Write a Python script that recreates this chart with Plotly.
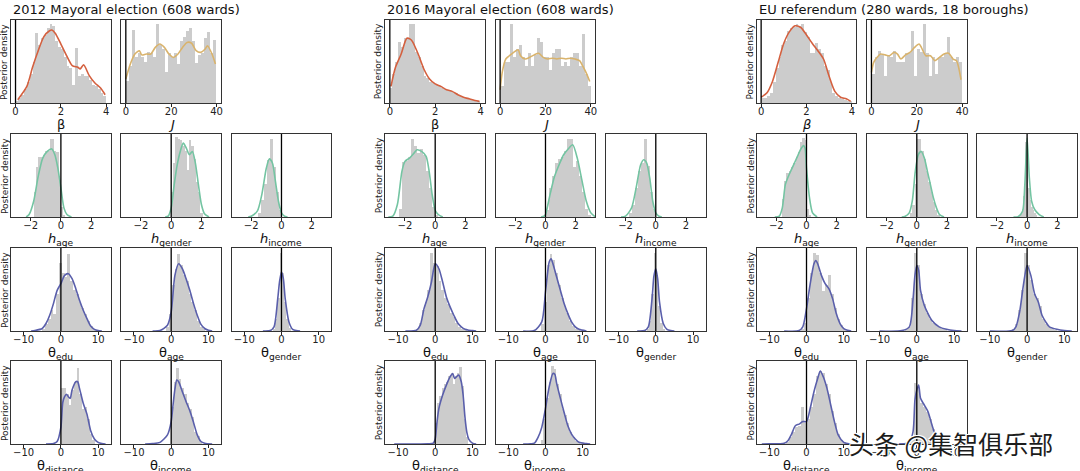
import plotly.graph_objects as go

W, H = 1080, 471

# ---------------- data (relative posterior densities) ----------------
# histogram bins given as (first edge, bin width); heights relative to panel height
# ===== 2012 Mayoral election =====
e12_beta_bins = (0.0, 0.125)
e12_beta_hist = [0.03, 0.06, 0.10, 0.17, 0.25, 0.35, 0.50, 0.84, 0.70, 0.78, 0.82, 0.90, 0.95, 0.93, 0.75, 0.68,
                 0.65, 0.55, 0.45, 0.42, 0.22, 0.66, 0.33, 0.35, 0.32, 0.32, 0.28, 0.22, 0.20, 0.17, 0.12, 0.08]
e12_beta_kx = [0.1, 0.5, 0.75, 1.0, 1.25, 1.5, 1.6, 1.75, 2.0, 2.25, 2.5, 2.75, 2.85, 3.0, 3.25, 3.5, 3.75, 3.95]
e12_beta_ky = [0.04, 0.2, 0.43, 0.63, 0.8, 0.87, 0.88, 0.84, 0.71, 0.57, 0.45, 0.43, 0.41, 0.46, 0.33, 0.24, 0.18, 0.1]

e12_J_bins = (0.0, 40 / 30)
e12_J_hist = [0.27, 0.45, 0.88, 0.55, 0.60, 0.55, 0.50, 0.62, 0.60, 0.55, 0.95, 0.70, 0.65, 0.37, 0.60,
              0.55, 0.60, 0.47, 0.75, 0.80, 0.87, 0.90, 0.75, 0.48, 0.58, 0.60, 0.78, 0.85, 0.60, 0.76]
e12_J_kx = [0, 2, 4, 6, 7, 9, 11, 13, 15, 17, 19, 21, 23, 25, 27, 29, 31, 33, 35, 36, 38, 39.5]
e12_J_ky = [0.29, 0.47, 0.59, 0.63, 0.58, 0.59, 0.59, 0.67, 0.71, 0.67, 0.59, 0.55, 0.59, 0.67, 0.73, 0.72,
            0.63, 0.61, 0.65, 0.69, 0.59, 0.47]

e12_hage_bins = (-1.8, 0.15)
e12_hage_hist = [0.3, 0.6, 0.72, 0.72, 0.75, 0.8, 0.8, 0.94, 0.94, 0.8, 0.78, 0.45, 0.12, 0.02]
e12_hage_kx = [-2.3, -2.1, -1.8, -1.5, -1.2, -0.9, -0.6, -0.4, -0.2, 0, 0.2, 0.4, 0.7]
e12_hage_ky = [0, 0.03, 0.19, 0.49, 0.71, 0.79, 0.82, 0.75, 0.59, 0.35, 0.11, 0.03, 0]

e12_hgen_bins = (0.0, 0.15)
e12_hgen_hist = [0.3, 0.65, 0.96, 0.94, 0.93, 0.85, 0.8, 0.57, 0.93, 0.85, 0.7, 0.42, 0.3, 0.05]
e12_hgen_kx = [-0.4, -0.2, 0, 0.2, 0.4, 0.6, 0.8, 1.0, 1.2, 1.4, 1.6, 1.8, 2.0, 2.2, 2.5]
e12_hgen_ky = [0, 0.01, 0.11, 0.39, 0.63, 0.79, 0.89, 0.83, 0.75, 0.79, 0.65, 0.39, 0.15, 0.04, 0]

e12_hinc_bins = (-1.6, 0.2)
e12_hinc_hist = [0.05, 0.2, 0.4, 0.69, 0.94, 0.6, 0.3, 0.08]
e12_hinc_kx = [-2.2, -2.0, -1.6, -1.3, -1.0, -0.8, -0.6, -0.4, -0.2, 0, 0.2, 0.4]
e12_hinc_ky = [0, 0.01, 0.07, 0.27, 0.59, 0.70, 0.65, 0.43, 0.19, 0.05, 0.01, 0]

e12_tedu_bins = (-5.0, 0.75)
e12_tedu_hist = [0.03, 0.08, 0.15, 0.25, 0.2, 0.45, 0.82, 0.7, 0.65, 0.93, 0.6, 0.5, 0.45, 0.35, 0.28, 0.2,
                 0.12, 0.06, 0.03, 0.01]
e12_tedu_kx = [-8, -7, -5, -4, -3, -2, -1, 0, 1, 2, 3, 4, 5, 6, 7, 8, 9, 10, 11]
e12_tedu_ky = [0, 0.005, 0.03, 0.09, 0.19, 0.33, 0.49, 0.57, 0.67, 0.69, 0.63, 0.51, 0.37, 0.25, 0.15, 0.06,
               0.02, 0.005, 0]

e12_tage_bins = (-1.25, 0.75)
e12_tage_hist = [0.05, 0.2, 0.55, 0.75, 0.93, 0.8, 0.68, 0.6, 0.45, 0.35, 0.25, 0.12, 0.05, 0.02]
e12_tage_kx = [-5, -3, -1, 0, 1, 2, 3, 4, 5, 6, 7, 8, 9, 10, 11]
e12_tage_ky = [0, 0.005, 0.07, 0.23, 0.67, 0.81, 0.75, 0.63, 0.49, 0.33, 0.19, 0.08, 0.03, 0.01, 0]

e12_tgen_bins = (-2.4, 0.6)
e12_tgen_hist = [0.03, 0.15, 0.4, 0.94, 0.7, 0.35, 0.15, 0.04]
e12_tgen_kx = [-5, -3, -2, -1, -0.5, 0, 0.5, 1, 2, 3, 4, 5]
e12_tgen_ky = [0, 0.005, 0.05, 0.39, 0.6, 0.71, 0.63, 0.39, 0.11, 0.02, 0.005, 0]

e12_tdist_bins = (0.0, 0.7)
e12_tdist_hist = [0.68, 0.68, 0.6, 0.47, 0.65, 0.75, 0.92, 0.6, 0.42, 0.45, 0.3, 0.12, 0.05]
e12_tdist_kx = [-4, -2, -1, 0, 0.5, 1, 1.5, 2, 2.5, 3, 4, 4.5, 5, 6, 7, 8, 9, 10, 11, 12]
e12_tdist_ky = [0, 0.005, 0.03, 0.2, 0.5, 0.57, 0.6, 0.57, 0.55, 0.65, 0.75, 0.75, 0.67, 0.49, 0.36, 0.16,
                0.06, 0.02, 0.005, 0]

e12_tinc_bins = (0.0, 0.7)
e12_tinc_hist = [0.45, 0.75, 0.92, 0.78, 0.68, 0.6, 0.5, 0.42, 0.33, 0.15, 0.1, 0.03]
e12_tinc_kx = [-7, -5, -3, -1, 0, 0.5, 1, 1.5, 2, 3, 4, 5, 6, 7, 8, 9, 11]
e12_tinc_ky = [0, 0.005, 0.02, 0.11, 0.27, 0.47, 0.66, 0.77, 0.75, 0.63, 0.51, 0.4, 0.26, 0.11, 0.03, 0.01, 0]

# ===== 2016 Mayoral election =====
e16_beta_bins = (0.0, 0.125)
e16_beta_hist = [0.18, 0.35, 0.5, 0.73, 0.68, 0.78, 0.78, 0.95, 0.95, 0.62, 0.55, 0.45, 0.32, 0.3, 0.25, 0.24,
                 0.22, 0.2, 0.18, 0.17, 0.16, 0.15, 0.13, 0.12, 0.1, 0.08, 0.07, 0.06, 0.05, 0.04, 0.03, 0.02]
e16_beta_kx = [0.05, 0.25, 0.5, 0.75, 0.9, 1.0, 1.25, 1.5, 1.75, 2.0, 2.25, 2.5, 2.75, 3.0, 3.25, 3.5, 3.75, 3.95]
e16_beta_ky = [0.2, 0.43, 0.59, 0.78, 0.77, 0.74, 0.59, 0.41, 0.29, 0.23, 0.2, 0.16, 0.14, 0.1, 0.07, 0.05,
               0.03, 0.02]

e16_J_bins = (0.0, 40 / 30)
e16_J_hist = [0.2, 0.5, 0.5, 0.95, 0.55, 0.65, 0.7, 0.55, 0.45, 0.6, 0.45, 0.58, 0.78, 0.73, 0.55,
              0.55, 0.4, 0.6, 0.65, 0.65, 0.45, 0.5, 0.45, 0.55, 0.6, 0.6, 0.45, 0.83, 0.35, 0.2]
e16_J_kx = [0, 1, 2.5, 5, 7, 8, 9, 11, 13, 15, 17, 19, 21, 23, 25, 27, 29, 31, 33, 35, 36.5, 38, 39.5]
e16_J_ky = [0.16, 0.38, 0.53, 0.59, 0.63, 0.64, 0.57, 0.53, 0.55, 0.58, 0.6, 0.55, 0.53, 0.54, 0.53, 0.54,
            0.53, 0.54, 0.53, 0.51, 0.44, 0.36, 0.26]

e16_hage_bins = (-2.4, 0.2)
e16_hage_hist = [0.1, 0.66, 0.68, 0.72, 0.94, 0.85, 0.77, 0.82, 0.75, 0.55, 0.35, 0.12, 0.03]
e16_hage_kx = [-3.1, -2.8, -2.5, -2.2, -2.0, -1.7, -1.4, -1.2, -0.9, -0.6, -0.4, -0.2, 0, 0.2, 0.5]
e16_hage_ky = [0, 0.01, 0.15, 0.55, 0.67, 0.71, 0.77, 0.81, 0.79, 0.73, 0.55, 0.27, 0.08, 0.03, 0]

e16_hgen_bins = (0.0, 0.2)
e16_hgen_hist = [0.08, 0.35, 0.5, 0.65, 0.7, 0.72, 0.8, 0.94, 0.94, 0.6, 0.68, 0.5, 0.3, 0.1, 0.03]
e16_hgen_kx = [-0.3, -0.1, 0, 0.3, 0.6, 0.9, 1.2, 1.5, 1.8, 2.1, 2.4, 2.7, 3.0, 3.3]
e16_hgen_ky = [0, 0.01, 0.03, 0.27, 0.49, 0.63, 0.75, 0.82, 0.87, 0.71, 0.45, 0.19, 0.05, 0]

e16_hinc_bins = (-1.8, 0.2)
e16_hinc_hist = [0.05, 0.15, 0.35, 0.55, 0.65, 0.94, 0.62, 0.3, 0.1]
e16_hinc_kx = [-2.3, -2.0, -1.6, -1.3, -1.0, -0.8, -0.6, -0.4, -0.2, 0, 0.2, 0.4]
e16_hinc_ky = [0, 0.01, 0.11, 0.35, 0.63, 0.69, 0.65, 0.47, 0.19, 0.05, 0.01, 0]

e16_tedu_bins = (-5.0, 0.75)
e16_tedu_hist = [0.03, 0.1, 0.25, 0.35, 0.5, 0.94, 0.82, 0.78, 0.6, 0.5, 0.4, 0.32, 0.22, 0.17, 0.1, 0.05,
                 0.03, 0.01]
e16_tedu_kx = [-8, -5, -4, -3, -2, -1, 0, 1, 2, 3, 4, 5, 6, 7, 8, 9, 10, 11]
e16_tedu_ky = [0, 0.01, 0.07, 0.27, 0.41, 0.59, 0.81, 0.75, 0.59, 0.41, 0.29, 0.19, 0.1, 0.05, 0.02, 0.01,
               0.005, 0]

e16_tage_bins = (-1.25, 0.75)
e16_tage_hist = [0.08, 0.35, 0.8, 0.93, 0.85, 0.7, 0.55, 0.4, 0.3, 0.22, 0.12, 0.06, 0.03, 0.01]
e16_tage_kx = [-6, -3, -1, 0, 1, 1.5, 2, 3, 4, 5, 6, 7, 8, 9, 11]
e16_tage_ky = [0, 0.005, 0.11, 0.47, 0.83, 0.87, 0.81, 0.65, 0.49, 0.33, 0.21, 0.11, 0.05, 0.02, 0]

e16_tgen_bins = (-2.4, 0.6)
e16_tgen_hist = [0.03, 0.12, 0.45, 0.94, 0.68, 0.3, 0.1, 0.03]
e16_tgen_kx = [-5, -3, -2, -1, -0.5, 0, 0.5, 1, 2, 3, 4, 5]
e16_tgen_ky = [0, 0.005, 0.05, 0.39, 0.66, 0.75, 0.63, 0.35, 0.09, 0.02, 0.005, 0]

e16_tdist_bins = (0.0, 0.6)
e16_tdist_hist = [0.25, 0.5, 0.58, 0.68, 0.72, 0.75, 0.82, 0.86, 0.72, 0.82, 0.85, 0.93, 0.7, 0.3, 0.08]
e16_tdist_kx = [-11, -2, -0.5, 0, 0.5, 1, 2, 3, 4, 4.7, 5.2, 5.7, 6.3, 7, 7.5, 8, 8.5, 9, 10, 11]
e16_tdist_ky = [0, 0.003, 0.01, 0.06, 0.27, 0.43, 0.59, 0.71, 0.81, 0.85, 0.79, 0.81, 0.83, 0.75, 0.59, 0.32,
                0.14, 0.06, 0.01, 0]

e16_tinc_bins = (-1.4, 0.7)
e16_tinc_hist = [0.05, 0.3, 0.55, 0.75, 0.94, 0.9, 0.72, 0.6, 0.42, 0.35, 0.25, 0.15, 0.08, 0.04, 0.02]
e16_tinc_kx = [-6, -4, -3, -2, -1, 0, 1, 2, 2.5, 3, 4, 5, 6, 7, 8, 9, 11, 12]
e16_tinc_ky = [0, 0.003, 0.01, 0.08, 0.2, 0.43, 0.69, 0.85, 0.84, 0.73, 0.55, 0.38, 0.22, 0.12, 0.06, 0.02,
               0.005, 0]

# ===== EU referendum =====
eu_beta_bins = (0.0, 0.125)
eu_beta_hist = [0.06, 0.06, 0.08, 0.12, 0.25, 0.42, 0.55, 0.7, 0.75, 0.87, 0.9, 0.92, 0.95, 0.93, 0.95, 0.85,
                0.8, 0.6, 0.6, 0.72, 0.65, 0.6, 0.45, 0.4, 0.25, 0.12, 0.08, 0.06, 0.05, 0.04, 0.03, 0.02]
eu_beta_kx = [0, 0.25, 0.5, 0.75, 1.0, 1.25, 1.5, 1.75, 2.0, 2.25, 2.5, 2.75, 3.0, 3.25, 3.5, 3.75, 3.95]
eu_beta_ky = [0.07, 0.12, 0.26, 0.49, 0.72, 0.86, 0.93, 0.91, 0.82, 0.72, 0.63, 0.53, 0.32, 0.14, 0.07, 0.05,
              0.02]

eu_J_bins = (0.0, 40 / 30)
eu_J_hist = [0.35, 0.55, 0.63, 0.58, 0.33, 0.58, 0.55, 0.63, 0.5, 0.5, 0.5, 0.6, 0.6, 0.87, 0.33,
             0.65, 0.62, 0.95, 0.6, 0.33, 0.55, 0.35, 0.55, 0.55, 0.6, 0.8, 0.55, 0.5, 0.55, 0.5]
eu_J_kx = [0, 1, 2.5, 4, 6, 8, 10, 11.5, 13, 15, 17, 19, 21, 22, 24, 26, 28, 30, 32, 34, 36, 37.5, 39.5]
eu_J_ky = [0.37, 0.49, 0.55, 0.59, 0.58, 0.57, 0.61, 0.59, 0.53, 0.58, 0.61, 0.67, 0.71, 0.67, 0.57, 0.57,
           0.51, 0.55, 0.59, 0.6, 0.53, 0.51, 0.28]

eu_hage_bins = (-1.65, 0.15)
eu_hage_hist = [0.22, 0.43, 0.53, 0.56, 0.6, 0.65, 0.72, 0.78, 0.9, 0.95, 0.93, 0.1, 0.03]
eu_hage_kx = [-2.1, -1.8, -1.6, -1.4, -1.2, -1.0, -0.8, -0.6, -0.4, -0.2, -0.1, 0, 0.2, 0.4, 0.7]
eu_hage_ky = [0, 0.01, 0.11, 0.39, 0.49, 0.57, 0.65, 0.73, 0.81, 0.86, 0.83, 0.59, 0.23, 0.05, 0]

eu_hgen_bins = (-0.45, 0.15)
eu_hgen_hist = [0.05, 0.15, 0.4, 0.94, 0.94, 0.8, 0.7, 0.55, 0.42, 0.3, 0.18, 0.08, 0.03]
eu_hgen_kx = [-1.0, -0.8, -0.5, -0.3, -0.1, 0.1, 0.3, 0.5, 0.7, 0.9, 1.1, 1.3, 1.5, 1.8]
eu_hgen_ky = [0, 0.005, 0.05, 0.19, 0.55, 0.75, 0.79, 0.71, 0.55, 0.39, 0.23, 0.11, 0.03, 0]

eu_hinc_bins = (-0.5, 0.1)
eu_hinc_hist = [0.02, 0.04, 0.1, 0.25, 0.9, 0.85, 0.35, 0.2, 0.12, 0.08, 0.05, 0.03]
eu_hinc_kx = [-0.9, -0.6, -0.3, -0.15, 0, 0.15, 0.3, 0.5, 0.8, 1.1]
eu_hinc_ky = [0, 0.005, 0.07, 0.39, 0.95, 0.47, 0.19, 0.09, 0.03, 0]

eu_tedu_bins = (-1.6, 0.8)
eu_tedu_hist = [0.03, 0.1, 0.4, 0.7, 0.94, 0.92, 0.7, 0.48, 0.55, 0.68, 0.45, 0.28, 0.15, 0.07, 0.03, 0.01]
eu_tedu_kx = [-6, -2, -1, 0, 1, 2, 2.5, 3, 4, 5, 6, 7, 8, 9, 10, 11, 12]
eu_tedu_ky = [0, 0.005, 0.05, 0.27, 0.57, 0.81, 0.85, 0.81, 0.67, 0.57, 0.51, 0.39, 0.21, 0.09, 0.03, 0.01, 0]

eu_tage_bins = (-3.2, 0.8)
eu_tage_hist = [0.02, 0.05, 0.4, 0.94, 0.8, 0.45, 0.33, 0.22, 0.15, 0.1, 0.07, 0.05, 0.03, 0.02]
eu_tage_kx = [-10, -4, -2, -1, -0.5, 0, 0.5, 1, 2, 3, 4, 6, 8, 10, 12]
eu_tage_ky = [0, 0.005, 0.05, 0.39, 0.67, 0.79, 0.73, 0.49, 0.31, 0.21, 0.13, 0.05, 0.02, 0.005, 0]

eu_tgen_bins = (-4.0, 0.8)
eu_tgen_hist = [0.03, 0.08, 0.25, 0.5, 0.94, 0.8, 0.62, 0.45, 0.4, 0.3, 0.15, 0.08, 0.05, 0.03, 0.01]
eu_tgen_kx = [-10, -4, -3, -2, -1, 0, 1, 2, 3, 4, 5, 6, 8, 10, 12]
eu_tgen_ky = [0, 0.005, 0.05, 0.23, 0.55, 0.79, 0.67, 0.45, 0.35, 0.19, 0.11, 0.05, 0.02, 0.005, 0]

eu_tdist_bins = (-5.6, 0.8)
eu_tdist_hist = [0.03, 0.08, 0.15, 0.2, 0.22, 0.45, 0.25, 0.3, 0.45, 0.6, 0.82, 0.88, 0.85, 0.72, 0.6, 0.4,
                 0.25, 0.12, 0.05, 0.02]
eu_tdist_kx = [-12, -10, -6, -5, -4, -3, -2, -1, 0, 1, 2, 3, 3.7, 4.5, 5.5, 6.5, 7.5, 8.5, 10, 11, 12]
eu_tdist_ky = [0, 0.003, 0.01, 0.04, 0.12, 0.22, 0.24, 0.27, 0.27, 0.43, 0.63, 0.79, 0.88, 0.81, 0.67, 0.47,
               0.27, 0.11, 0.02, 0.005, 0]

eu_tinc_bins = (-2.4, 0.8)
eu_tinc_hist = [0.02, 0.1, 0.73, 0.68, 0.5, 0.45, 0.38, 0.3, 0.18, 0.08, 0.03, 0.01]
eu_tinc_kx = [-6, -3, -2, -1, -0.5, 0, 0.5, 1, 2, 3, 4, 5, 6, 8]
eu_tinc_ky = [0, 0.005, 0.02, 0.15, 0.53, 0.65, 0.71, 0.55, 0.47, 0.39, 0.24, 0.1, 0.02, 0]

group_titles = ["2012 Mayoral election (608 wards)", "2016 Mayoral election (608 wards)",
                "EU referendum (280 wards, 18 boroughs)"]
ylabel_text = "Posterior density"
beta_ticks = [0, 2, 4]
J_ticks = [0, 20, 40]
h_ticks = [-2, 0, 2]
theta_ticks = [-10, 0, 10]
watermark = "头条 @集智俱乐部"

# ---------------- styling / layout ----------------
KINDS = {
    "beta": dict(rng=[-0.2, 4.2], ticks=beta_ticks, color="#d4603f"),
    "J": dict(rng=[-2, 42], ticks=J_ticks, color="#d9b36c"),
    "h": dict(rng=[-3.3, 3.3], ticks=h_ticks, color="#74c4a2"),
    "theta": dict(rng=[-13.4, 13.4], ticks=theta_ticks, color="#5a5fab"),
}

GROUP_LEFT = [11, 386, 758]
COL_PITCH = 110.5
PW, PH = 100, 83
ROW_TOP = [20, 134, 248, 361]
FONT = "DejaVu Sans"

g12 = globals()
groups = ["e12", "e16", "eu"]
# (row, col, key, kind, label)
slots = [
    (0, 0, "beta", "beta", "β"), (0, 1, "J", "J", "<i>J</i>"),
    (1, 0, "hage", "h", "<i>h</i><sub>age</sub>"), (1, 1, "hgen", "h", "<i>h</i><sub>gender</sub>"),
    (1, 2, "hinc", "h", "<i>h</i><sub>income</sub>"),
    (2, 0, "tedu", "theta", "θ<sub>edu</sub>"), (2, 1, "tage", "theta", "θ<sub>age</sub>"),
    (2, 2, "tgen", "theta", "θ<sub>gender</sub>"),
    (3, 0, "tdist", "theta", "θ<sub>distance</sub>"), (3, 1, "tinc", "theta", "θ<sub>income</sub>"),
]


def fmt(v):
    return ("−" + str(abs(v))) if v < 0 else str(v)


fig = go.Figure()
layout = dict(width=W, height=H, margin=dict(l=0, r=0, t=0, b=0), paper_bgcolor="white",
              plot_bgcolor="white", showlegend=False, barmode="overlay", bargap=0)
annotations, shapes = [], []
n = 0
for gi, g in enumerate(groups):
    annotations.append(dict(text=group_titles[gi], xref="paper", yref="paper", x=GROUP_LEFT[gi] / W,
                            y=1 - 9.5 / H, xanchor="left", yanchor="middle", showarrow=False,
                            font=dict(family=FONT, size=13, color="#111")))
    for (r, c, key, kind, label) in slots:
        n += 1
        k = KINDS[kind]
        hist = g12[f"{g}_{key}_hist"]
        b0, bw = g12[f"{g}_{key}_bins"]
        kx = g12[f"{g}_{key}_kx"]
        ky = g12[f"{g}_{key}_ky"]
        if g == "eu" and key == "beta":
            label = "<i>β</i>"
        centers = [b0 + bw * (i + 0.5) for i in range(len(hist))]
        xa, ya = ("x", "y") if n == 1 else (f"x{n}", f"y{n}")
        fig.add_trace(go.Bar(x=centers, y=hist, width=bw, xaxis=xa, yaxis=ya,
                             marker=dict(color="#cccccc", line=dict(width=0)), hoverinfo="skip"))
        fig.add_trace(go.Scatter(x=kx, y=ky, mode="lines", xaxis=xa, yaxis=ya,
                                 line=dict(color=k["color"], width=1.6, shape="spline", smoothing=0.7),
                                 hoverinfo="skip"))
        left = GROUP_LEFT[gi] + c * COL_PITCH
        top = ROW_TOP[r]
        xd = [left / W, (left + PW) / W]
        yd = [1 - (top + PH) / H, 1 - top / H]
        sfx = "" if n == 1 else str(n)
        layout["xaxis" + sfx] = dict(domain=xd, anchor=ya, range=k["rng"], tickvals=k["ticks"],
                                     ticktext=[fmt(v) for v in k["ticks"]], ticks="outside", ticklen=3.5,
                                     tickwidth=0.8, tickcolor="#222", showline=True, mirror=True,
                                     linecolor="#333", linewidth=0.9, showgrid=False, zeroline=False,
                                     ticklabelstandoff=-4,
                                     tickfont=dict(family=FONT, size=10, color="#222"), fixedrange=True)
        layout["yaxis" + sfx] = dict(domain=yd, anchor=xa, range=[0, 1], showticklabels=False, ticks="",
                                     showline=True, mirror=True, linecolor="#333", linewidth=0.9,
                                     showgrid=False, zeroline=False, fixedrange=True)
        shapes.append(dict(type="line", xref=xa, yref=f"{ya} domain", x0=0, x1=0, y0=0, y1=1,
                           line=dict(color="black", width=1.3), layer="above"))
        annotations.append(dict(text=label, xref="paper", yref="paper", x=(left + PW / 2) / W,
                                y=1 - (top + PH + 22) / H, xanchor="center", yanchor="middle",
                                showarrow=False, font=dict(family=FONT, size=13, color="#111")))
        if c == 0:
            annotations.append(dict(text=ylabel_text, xref="paper", yref="paper", x=(left - 6.5) / W,
                                    y=1 - (top + PH / 2) / H, xanchor="center", yanchor="middle",
                                    textangle=-90, showarrow=False,
                                    font=dict(family=FONT, size=9, color="#222")))

annotations.append(dict(text=watermark, xref="paper", yref="paper", x=953 / W, y=1 - 443 / H,
                        xanchor="center", yanchor="middle", showarrow=False,
                        font=dict(family="Noto Sans CJK SC", size=25, color="#1c1c1c",
                                  shadow="1px 1px 0 #fff, -1px -1px 0 #fff, 1px -1px 0 #fff, -1px 1px 0 #fff")))

layout["annotations"] = annotations
layout["shapes"] = shapes
fig.update_layout(**layout)
fig.write_html("out.html", config={"displayModeBar": False},
               post_script="document.body.style.margin='0';document.body.style.overflow='hidden';")
